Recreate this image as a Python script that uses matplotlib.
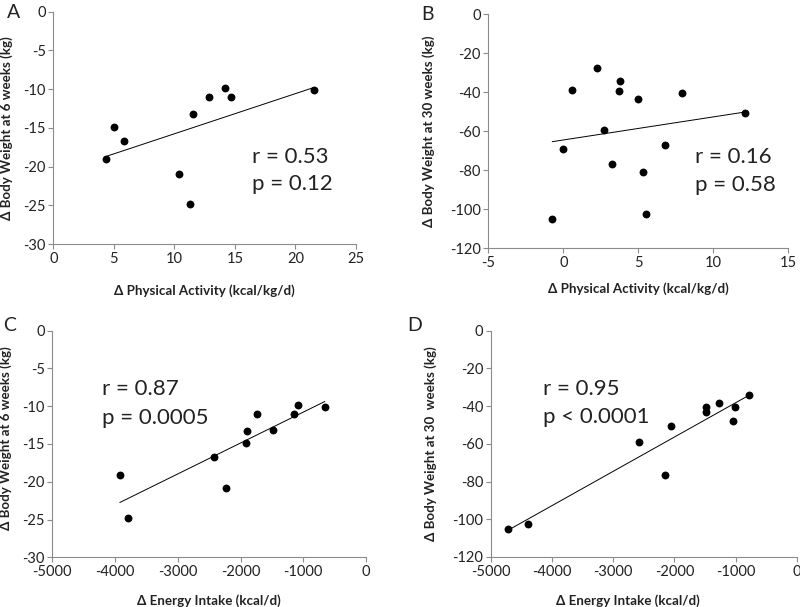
import numpy as np
import matplotlib
matplotlib.use("Agg")
import matplotlib.pyplot as plt

plt.rcParams['font.family'] = ['Lato', 'DejaVu Sans']
plt.rcParams['axes.unicode_minus'] = False

# Panel A: physical activity vs weight change at 6 weeks
pa6_x = [4.33, 5.04, 5.87, 10.42, 11.3, 11.52, 12.84, 14.2, 14.69, 21.53]
pa6_y = [-19.07, -14.9, -16.7, -20.9, -24.8, -13.17, -11.06, -9.8, -11.06, -10.1]

# Panel B: physical activity vs weight change at 30 weeks
pa30_x = [-0.73, 0.0, 0.58, 2.24, 2.69, 3.27, 3.73, 3.78, 4.98, 5.31, 5.51, 6.8, 7.89, 12.1]
pa30_y = [-104.8, -69.1, -38.6, -27.5, -59.3, -76.6, -39.5, -34.2, -43.2, -80.7, -102.2, -67.0, -40.2, -50.6]

# Panel C: energy intake vs weight change at 6 weeks
ei6_x = [-3921, -3794, -2428, -2237, -1907, -1897, -1737, -1488, -1153, -1084, -659]
ei6_y = [-19.1, -24.8, -16.67, -20.86, -14.9, -13.28, -11.07, -13.19, -11.07, -9.79, -10.1]

# Panel D: energy intake vs weight change at 30 weeks
ei30_x = [-4711, -4394, -2578, -2158, -2054, -1487, -1476, -1274, -1039, -1007, -777]
ei30_y = [-105.0, -102.3, -59.2, -76.7, -50.4, -43.1, -40.5, -38.5, -47.9, -40.3, -34.1]

panel_letters = ['A', 'B', 'C', 'D']
stats_r = ['r = 0.53', 'r = 0.16', 'r = 0.87', 'r = 0.95']
stats_p = ['p = 0.12', 'p = 0.58', 'p = 0.0005', 'p < 0.0001']
xlabels = ['Δ Physical Activity (kcal/kg/d)', 'Δ Physical Activity (kcal/kg/d)',
           'Δ Energy Intake (kcal/d)', 'Δ Energy Intake (kcal/d)']
ylabels = ['Δ Body Weight at 6 weeks (kg)', 'Δ Body Weight at 30 weeks (kg)',
           'Δ Body Weight at 6 weeks (kg)', 'Δ Body Weight at 30  weeks (kg)']
xticks = [np.arange(0, 26, 5), np.arange(-5, 16, 5),
          np.arange(-5000, 1, 1000), np.arange(-5000, 1, 1000)]
yticks = [np.arange(-30, 1, 5), np.arange(-120, 1, 20),
          np.arange(-30, 1, 5), np.arange(-120, 1, 20)]

fig = plt.figure(figsize=(8, 6.07), dpi=100)

positions = [
    [0.0666, 0.598, 0.445 - 0.0666, 0.9807 - 0.598],
    [0.6104, 0.591, 0.9854 - 0.6104, 0.9764 - 0.591],
    [0.0654, 0.0819, 0.4575 - 0.0654, 0.4552 - 0.0819],
    [0.6134, 0.0824, 0.9959 - 0.6134, 0.4552 - 0.0824],
]
data = [(pa6_x, pa6_y), (pa30_x, pa30_y), (ei6_x, ei6_y), (ei30_x, ei30_y)]
text_xy = [(16.4, -18.7, -22.3), (8.78, -73, -87.5), (-4214, -7.76, -11.5), (-4149, -31.1, -45.9)]
ylab_coords = [(-0.133, 0.5), (-0.178, 0.5), (-0.128, 0.526), (-0.176, 0.5)]
xlab_coords = [(0.5, -0.175), (0.5, -0.144), (0.5, -0.165), (0.448, -0.165)]
letter_pos = [(0.009, 0.993), (0.527, 0.99), (0.004, 0.478), (0.509, 0.478)]

spine_col = '#8c8c8c'
for i, pos in enumerate(positions):
    ax = fig.add_axes(pos)
    x, y = np.array(data[i][0], float), np.array(data[i][1], float)
    ax.scatter(x, y, s=32, color='black', zorder=3, linewidths=0)
    m, b = np.polyfit(x, y, 1)
    xl = np.array([x.min(), x.max()])
    ax.plot(xl, m * xl + b, color='black', lw=0.7, zorder=2)
    ax.set_xlim(xticks[i][0], xticks[i][-1])
    ax.set_ylim(yticks[i][0], yticks[i][-1])
    ax.set_xticks(xticks[i])
    ax.set_yticks(yticks[i])
    for s in ['top', 'right']:
        ax.spines[s].set_visible(False)
    for s in ['left', 'bottom']:
        ax.spines[s].set_color(spine_col)
        ax.spines[s].set_linewidth(0.8)
    ax.tick_params(direction='out', length=3.5, width=0.8, color=spine_col,
                   labelsize=10.5, labelcolor='#222222', pad=2)
    ax.set_xlabel(xlabels[i], fontsize=9.6, fontweight='bold', color='#222222')
    ax.set_ylabel(ylabels[i], fontsize=9.6, fontweight='bold', color='#222222')
    ax.xaxis.set_label_coords(*xlab_coords[i])
    ax.yaxis.set_label_coords(*ylab_coords[i])
    tx, ty1, ty2 = text_xy[i]
    ax.text(tx, ty1, stats_r[i], fontsize=16, ha='left', va='center', color='#222222')
    ax.text(tx, ty2, stats_p[i], fontsize=16, ha='left', va='center', color='#222222')
    ax.patch.set_alpha(0)

for i, (lx, ly) in enumerate(letter_pos):
    fig.text(lx, ly, panel_letters[i], fontsize=14, ha='left', va='top', color='#222222')

fig.savefig('out.png', dpi=100)
